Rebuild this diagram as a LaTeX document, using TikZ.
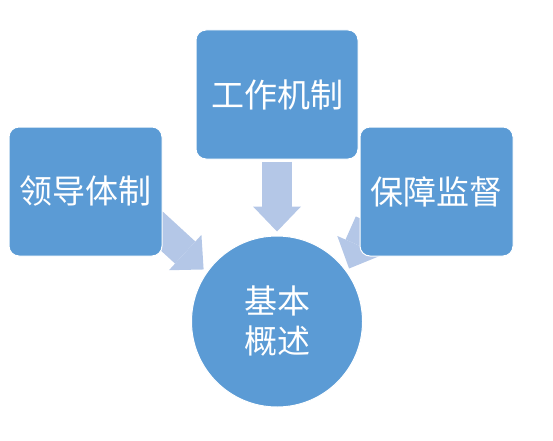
\documentclass[tikz,border=0pt]{standalone}
\usepackage{fontspec}
\newfontfamily\cjk{Noto Sans CJK SC}
\usetikzlibrary{arrows.meta,positioning,calc,backgrounds}
\definecolor{boxblue}{RGB}{91,155,213}
\definecolor{arrowblue}{RGB}{180,199,231}

\begin{document}
\begin{tikzpicture}[x=1pt, y=1pt, node distance=76pt, auto]

            % Define block styles
            \tikzstyle{block} = [rectangle, draw=white, line width=1pt, fill=boxblue, text=white, rounded corners=10pt, minimum width=153pt, minimum height=129pt, inner sep=0pt, font=\cjk\fontsize{33}{40}\selectfont]
            \tikzstyle{hub} = [circle, draw=white, line width=1pt, fill=boxblue, text=white, minimum size=171pt, inner sep=0pt, align=center, font=\cjk\fontsize{33}{40}\selectfont]
            \tikzstyle{line} = [draw=arrowblue, line width=30pt, -{Triangle[width=48pt, length=25pt, line width=0pt]}]

            \useasboundingbox (0,0) rectangle (553,440);

            % Nodes
            \node [block, minimum width=162pt] (work) at (277,345.5) {工作机制};
            \node [hub, below=of work] (base) {基本\\概述};
            \node [block, below left=97pt and 33pt of work.north west] (lead) {领导体制};
            \node [block, below right=97pt and 1pt of work.north east] (guard) {保障监督};

            % Arrows
            \begin{pgfonlayer}{background}
            \path [line, shorten <=2pt, shorten >=4pt] (work) -- (base);
            \path [line, shorten >=4pt] ($(lead.south east)+(-10,34)$) -- (base.145);
            \path [line, shorten >=4pt] ($(guard.south west)+(10,34)$) -- (base.35);
            \end{pgfonlayer}

        \end{tikzpicture}
\end{document}
